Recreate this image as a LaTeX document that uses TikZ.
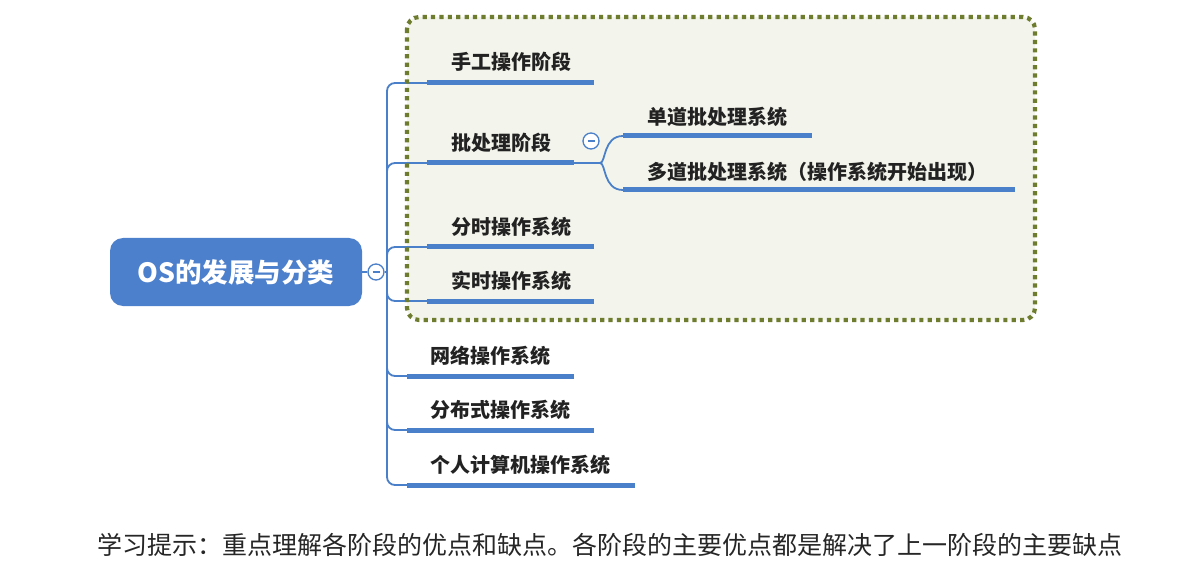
\documentclass[tikz,border=0pt]{standalone}
\usepackage{fontspec}
\newfontfamily\cjk{Noto Sans CJK SC}
\definecolor{mmblue}{HTML}{4A7FC9}
\definecolor{rootblue}{HTML}{4D80CC}
\definecolor{olive}{HTML}{6E7C2F}
\definecolor{boxfill}{HTML}{F3F5EC}
\definecolor{txt}{HTML}{222222}
\tikzset{
  lbl/.style={anchor=west, inner sep=0pt, text=txt, font=\cjk\bfseries\fontsize{20}{23}\selectfont},
  rootbox/.style={fill=rootblue, rounded corners=13pt, minimum width=252pt, minimum height=68pt, inner sep=0pt, text=white, font=\cjk\bfseries\fontsize{26.5}{30}\selectfont},
  fold/.style={circle, draw=mmblue, fill=white, line width=1.3pt, minimum size=16pt, inner sep=0pt},
  conn/.style={draw=mmblue, line width=1.8pt, rounded corners=8pt},
  uline/.style={draw=mmblue, line width=5pt},
  dotbox/.style={draw=olive, line width=4.2pt, dash pattern=on 4.2pt off 4.2pt, rounded corners=12pt},
}
\begin{document}
\begin{tikzpicture}[x=1pt,y=-1pt]
\useasboundingbox (0,0) rectangle (1178,572);
\fill[white] (0,0) rectangle (1178,572);
% background of dotted group
\fill[boxfill, rounded corners=12pt] (407,17) rectangle (1035,320);

% root
\node[rootbox] (root) at (236,272) {OS的发展与分类};
\node[fold] (c0) at (376,272) {};
\draw[mmblue, line width=1.3pt] (c0.center) +(-3.5,0) -- +(3.5,0);
\coordinate (j) at (387,272);
\draw[conn] (root.east) -- (c0.west);
\draw[conn] (c0.east) -- (j);

% labels
\node[lbl] (n1) at (451,62) {手工操作阶段};
\node[lbl] (n2) at (451,143) {批处理阶段};
\node[lbl] (n3) at (647,117) {单道批处理系统};
\node[lbl] (n4) at (647,172) {多道批处理系统（操作系统开始出现）};
\node[lbl] (n5) at (451,227) {分时操作系统};
\node[lbl] (n6) at (451,281) {实时操作系统};
\node[lbl] (n7) at (430,356) {网络操作系统};
\node[lbl] (n8) at (430,410) {分布式操作系统};
\node[lbl] (n9) at (430,465) {个人计算机操作系统};

% underline end points
\coordinate (u1a) at (427,83);  \coordinate (u1b) at (594,83);
\coordinate (u2a) at (427,163); \coordinate (u2b) at (574,163);
\coordinate (u3a) at (623,136); \coordinate (u3b) at (812,136);
\coordinate (u4a) at (623,190); \coordinate (u4b) at (1015,190);
\coordinate (u5a) at (427,247); \coordinate (u5b) at (594,247);
\coordinate (u6a) at (427,301); \coordinate (u6b) at (594,301);
\coordinate (u7a) at (407,376); \coordinate (u7b) at (574,376);
\coordinate (u8a) at (407,430); \coordinate (u8b) at (594,430);
\coordinate (u9a) at (407,485); \coordinate (u9b) at (635,485);

% trunk connectors
\foreach \k in {1,2,5,6,7,8,9}{
  \draw[conn] (j) |- (u\k a);
}

% batch sub-branch
\coordinate (b) at (600,163);
\node[fold] (c1) at (591,141) {};
\draw[mmblue, line width=1.3pt] (c1.center) +(-3.5,0) -- +(3.5,0);
\draw[conn] (u2b) -- (b);
\draw[mmblue, line width=1.8pt] (b) .. controls (606,163) and (603,136) .. (u3a);
\draw[mmblue, line width=1.8pt] (b) .. controls (606,163) and (603,190) .. (u4a);

% underlines
\foreach \k in {1,...,9}{
  \draw[uline] (u\k a) -- (u\k b);
}

% dotted group border
\draw[dotbox] (407,17) rectangle (1035,320);

% hint text
\node[anchor=west, inner sep=0pt, text=black!85, font=\cjk\fontsize{25}{28}\selectfont] (hint) at (97,545)
  {学习提示：重点理解各阶段的优点和缺点。各阶段的主要优点都是解决了上一阶段的主要缺点};
\end{tikzpicture}
\end{document}
